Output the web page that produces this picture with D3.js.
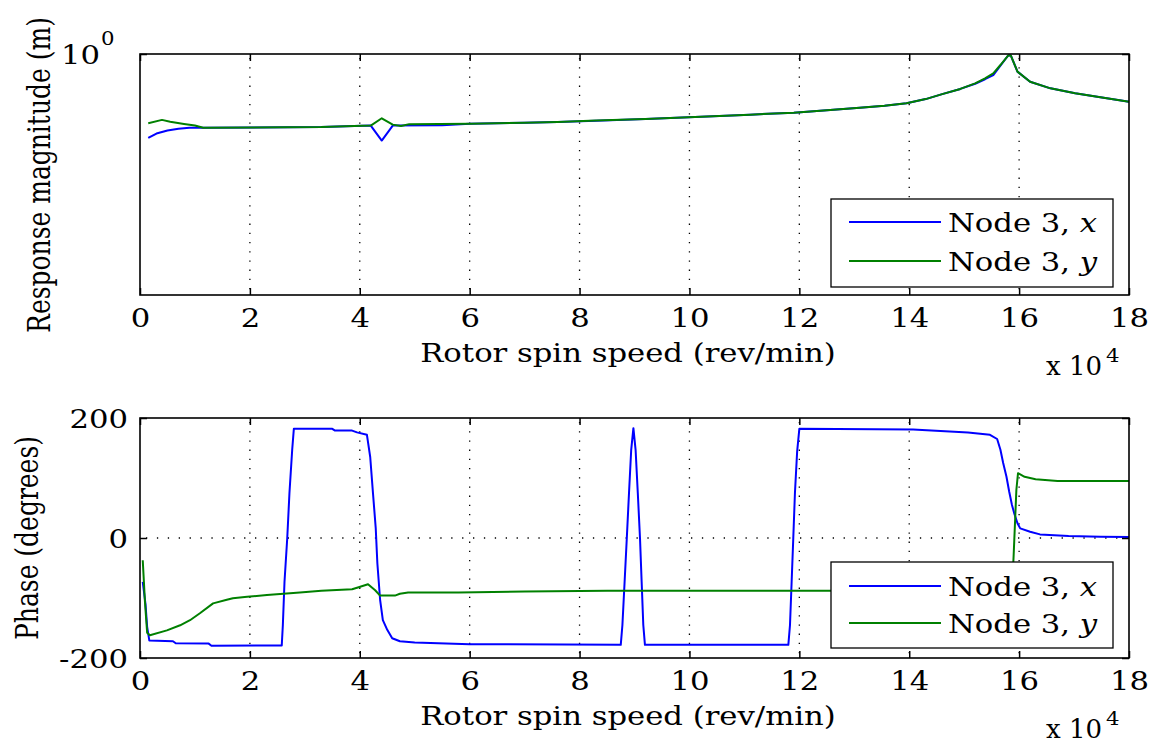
<!DOCTYPE html>
<html>
<head>
<meta charset="utf-8">
<script src="https://cdn.jsdelivr.net/npm/d3@7/dist/d3.min.js"></script>
<style>
  html, body { margin: 0; padding: 0; background: #ffffff; }
  svg { display: block; }
  text { font-family: "DejaVu Serif", serif; fill: #000; }
</style>
</head>
<body>
<svg id="chart" width="1154" height="747"></svg>
<script>
// ---------------- DATA ----------------
// Rotor spin speed in units of 10^4 rev/min
const xTickValues = [0, 2, 4, 6, 8, 10, 12, 14, 16, 18];
const magTickValues = [1];
const phaseTickValues = [-200, 0, 200];
const seriesLabels = ["Node 3, ", "Node 3, "];
const seriesVars = ["x", "y"];
const seriesColors = ["#0000ff", "#008000"];

// Response magnitude (m), log scale
const magNodeX = [
  [0.15,0.571],[0.3,0.588],[0.5,0.600],[0.7,0.607],[0.9,0.611],[1.15,0.611],[3.3,0.614],[4.2,0.620],
  [4.4,0.561],[4.6,0.620],[5.5,0.621],[6.0,0.628],[7.0,0.632],[7.6,0.635],[8.3,0.640],[9.2,0.648],
  [10.1,0.657],[11.1,0.667],[11.9,0.676],[12.5,0.687],[13.1,0.698],[13.55,0.708],[13.95,0.720],
  [14.3,0.740],[14.6,0.765],[14.93,0.792],[15.2,0.820],[15.38,0.845],[15.53,0.868],[15.66,0.925],
  [15.8,0.99],[15.85,0.99],[15.97,0.889],[16.2,0.831],[16.57,0.795],[17.02,0.769],[17.48,0.749],[18,0.727]
];
const magNodeY = [
  [0.15,0.630],[0.4,0.644],[0.55,0.636],[0.8,0.627],[1.0,0.620],[1.15,0.611],[3.3,0.614],[4.2,0.620],
  [4.4,0.651],[4.6,0.624],[4.75,0.618],[4.9,0.626],[6.0,0.628],[7.0,0.632],[7.6,0.635],[8.3,0.641],
  [9.2,0.648],[10.1,0.657],[11.1,0.667],[11.9,0.676],[12.5,0.687],[13.1,0.698],[13.55,0.708],
  [13.95,0.720],[14.3,0.740],[14.6,0.765],[14.93,0.792],[15.2,0.822],[15.38,0.85],[15.53,0.879],
  [15.66,0.929],[15.8,0.99],[15.85,0.99],[15.97,0.889],[16.2,0.831],[16.57,0.795],[17.02,0.769],
  [17.48,0.749],[18,0.727]
];

// Phase (degrees)
const phaseNodeX = [
  [0.05,-73],[0.1,-110],[0.13,-148],[0.17,-171],[0.6,-172],[0.65,-175.5],[1.25,-176],[1.3,-179.5],
  [2.58,-179],[2.6,-145],[2.63,-73],[2.68,0],[2.72,75],[2.77,147],[2.8,182],[3.5,182],[3.55,179],
  [3.86,179],[3.95,176],[4.13,172],[4.19,135],[4.24,75],[4.29,17],[4.32,-42],[4.37,-103],[4.42,-137],
  [4.5,-153],[4.59,-167],[4.73,-172],[5.0,-174],[6.0,-177],[8.75,-178],
  [8.78,-145],[8.82,-73],[8.86,0],[8.9,75],[8.94,147],[8.98,183],[9.02,147],[9.06,75],[9.1,0],
  [9.13,-73],[9.16,-145],[9.19,-178],
  [11.8,-178],[11.83,-145],[11.86,-73],[11.89,0],[11.92,75],[11.96,144],[12.0,182],[14.07,181],
  [15.07,176],[15.47,172],[15.6,165],[15.66,147],[15.71,125],[15.77,102],[15.82,77],[15.87,55],
  [15.91,41.5],[15.97,24.5],[16.02,16],[16.2,10.5],[16.38,6],[16.9,3.3],[17.48,2],[18,1.5]
];
const phaseNodeY = [
  [0.05,-37],[0.09,-106],[0.13,-158],[0.18,-162],[0.49,-154],[0.73,-145.5],[0.91,-137],[1.09,-125.5],
  [1.33,-109],[1.58,-103],[1.69,-100.5],[1.95,-98],[2.31,-95],[2.91,-91],[3.3,-88],[3.86,-85.5],
  [3.95,-83],[4.15,-77],[4.28,-87],[4.37,-96],[4.64,-96],[4.73,-93],[4.88,-91],[5.8,-91],[7.0,-89],
  [8.5,-88],[15.87,-88],[15.9,-30],[15.95,80],[15.98,108],[16.1,102],[16.3,98],[16.7,95],[18,95]
];

// ---------------- LAYOUT ----------------
const svg = d3.select("#chart");
const SX = 1.18;           // horizontal glyph stretch of the original bitmap
const FS = 26;             // font size
const left = 140, right = 1129;
const panels = [
  { top: 54, bottom: 295, legendTop: 199, legendBottom: 287, lineYs: [222, 261] },
  { top: 418, bottom: 658, legendTop: 562, legendBottom: 648, lineYs: [586, 623] }
];
const legendLeft = 831, legendRight = 1113;

const x = d3.scaleLinear().domain([0, 18]).range([left, right]);
const yMag = d3.scaleLog().domain([0.2, 1]).range([panels[0].bottom, panels[0].top]);
const yPh = d3.scaleLinear().domain([-200, 200]).range([panels[1].bottom, panels[1].top]);

function htext(g, px, py, str, anchor, size, sx) {
  return g.append("text")
    .attr("transform", `translate(${px},${py}) scale(${sx || SX},1)`)
    .attr("text-anchor", anchor || "start")
    .attr("font-size", size || FS)
    .text(str);
}

function drawPanel(p, yScale, seriesData, yTicks, hGrid) {
  const g = svg.append("g");
  // grid
  xTickValues.filter(v => v > 0 && v < 18).forEach(v => {
    g.append("line")
      .attr("x1", x(v)).attr("x2", x(v)).attr("y1", p.top).attr("y2", p.bottom)
      .attr("stroke", "#000").attr("stroke-width", 1.3)
      .attr("stroke-dasharray", "1.3,7.9").attr("stroke-dashoffset", -4);
  });
  hGrid.forEach(v => {
    g.append("line")
      .attr("x1", left).attr("x2", right).attr("y1", yScale(v)).attr("y2", yScale(v))
      .attr("stroke", "#000").attr("stroke-width", 1.3)
      .attr("stroke-dasharray", "1.3,9.6").attr("stroke-dashoffset", -6);
  });
  // series
  const line = d3.line().x(d => x(d[0])).y(d => yScale(d[1]));
  seriesData.forEach((s, i) => {
    g.append("path").datum(s).attr("d", line)
      .attr("fill", "none").attr("stroke", seriesColors[i])
      .attr("stroke-width", 2).attr("stroke-linejoin", "round");
  });
  // axes ticks (inward)
  const plain = d => String(d);
  const axB = g.append("g").attr("transform", `translate(0,${p.bottom})`)
    .call(d3.axisBottom(x).tickValues(xTickValues).tickSize(-7).tickFormat(plain));
  const axT = g.append("g").attr("transform", `translate(0,${p.top})`)
    .call(d3.axisTop(x).tickValues(xTickValues).tickSize(-7).tickFormat(""));
  const axL = g.append("g").attr("transform", `translate(${left},0)`)
    .call(d3.axisLeft(yScale).tickValues(yTicks).tickSize(-7).tickFormat(plain));
  const axR = g.append("g").attr("transform", `translate(${right},0)`)
    .call(d3.axisRight(yScale).tickValues(yTicks).tickSize(-7).tickFormat(""));
  [axB, axT, axL, axR].forEach(a => {
    a.select(".domain").remove();
    a.selectAll(".tick line").attr("stroke", "#000").attr("stroke-width", 1.5);
    a.selectAll("text").attr("font-family", "DejaVu Serif").attr("font-size", FS).attr("fill", "#000");
  });
  axB.selectAll(".tick text").attr("y", 32).attr("dy", null)
    .attr("transform", `scale(${SX},1)`);
  axL.selectAll(".tick text").attr("x", -12 / SX).attr("dy", "0.36em")
    .attr("transform", `scale(${SX},1)`);
  // box
  g.append("rect").attr("x", left).attr("y", p.top)
    .attr("width", right - left).attr("height", p.bottom - p.top)
    .attr("fill", "none").attr("stroke", "#000").attr("stroke-width", 1.6);
  // legend
  const lg = g.append("g");
  lg.append("rect").attr("x", legendLeft).attr("y", p.legendTop)
    .attr("width", legendRight - legendLeft).attr("height", p.legendBottom - p.legendTop)
    .attr("fill", "#fff").attr("stroke", "#000").attr("stroke-width", 1.3);
  p.lineYs.forEach((ly, i) => {
    lg.append("line").attr("x1", 849).attr("x2", 941).attr("y1", ly).attr("y2", ly)
      .attr("stroke", seriesColors[i]).attr("stroke-width", 2);
    const t = htext(lg, 948, ly + 10, null, "start", FS);
    t.append("tspan").text(seriesLabels[i]);
    t.append("tspan").attr("font-style", "italic").text(seriesVars[i]);
  });
  return g;
}

const gTop = drawPanel(panels[0], yMag, [magNodeX, magNodeY], magTickValues, []);
const gBot = drawPanel(panels[1], yPh, [phaseNodeX, phaseNodeY], phaseTickValues, [0]);

// log axis label 10^0 instead of default
gTop.selectAll("g .tick text").filter(function() { return this.textContent === "1"; }).remove();
htext(svg, 100, 64, "10", "end", FS);
htext(svg, 101, 45, "0", "start", 18);

// x labels and multipliers
[panels[0], panels[1]].forEach(p => {
  htext(svg, 628, p.bottom + 67, "Rotor spin speed (rev/min)", "middle", FS);
  htext(svg, 1046, p.bottom + 80, "x 10", "start", FS, 1.0);
  htext(svg, 1106, p.bottom + 67, "4", "start", 18);
});

// y labels (rotated)
svg.append("text")
  .attr("transform", `translate(50,175) scale(1.25,1) rotate(-90)`)
  .attr("text-anchor", "middle").attr("font-size", 25)
  .text("Response magnitude (m)");
svg.append("text")
  .attr("transform", `translate(38,538) scale(1.25,1) rotate(-90)`)
  .attr("text-anchor", "middle").attr("font-size", 25)
  .text("Phase (degrees)");
</script>
</body>
</html>
